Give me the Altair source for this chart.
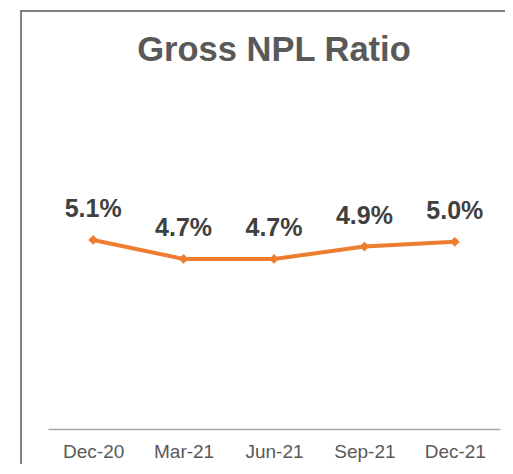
import altair as alt
import pandas as pd

quarters = ["Dec-20", "Mar-21", "Jun-21", "Sep-21", "Dec-21"]
npl_ratio = [5.08, 4.68, 4.68, 4.94, 5.04]

df = pd.DataFrame({"quarter": quarters, "ratio": npl_ratio})

FONT = "Liberation Sans"
ORANGE = "#ED7D31"

x = alt.X(
    "quarter:N", sort=quarters, title=None,
    axis=alt.Axis(labelAngle=0, labelFont=FONT, labelFontSize=19, labelColor="#595959",
                  labelPadding=13, ticks=False, domainColor="#A6A6A6", domainWidth=1.5,
                  grid=False),
)
y = alt.Y("ratio:Q", scale=alt.Scale(domain=[1.1, 7.1], zero=False, nice=False), axis=None)

base = alt.Chart(df).encode(x=x, y=y)
line = base.mark_line(color=ORANGE, strokeWidth=4)
pts = base.mark_point(shape="diamond", filled=True, size=95, color=ORANGE, opacity=1)
labels = base.transform_calculate(
    lbl="format(datum.ratio, '.1f') + '%'"
).mark_text(dy=-23, baseline="alphabetic", font=FONT, fontSize=25, fontWeight="bold",
            color="#404040").encode(text="lbl:N")

one = pd.DataFrame({"a": [0]})
border_top = alt.Chart(one).mark_rect(fill="#595959", strokeWidth=0).encode(
    x=alt.value(-27.75), x2=alt.value(460), y=alt.value(-133.75), y2=alt.value(-132.25))
border_left = alt.Chart(one).mark_rule(stroke="#595959", strokeWidth=1.5).encode(
    x=alt.value(-27), y=alt.value(-133), y2=alt.value(330))

chart = alt.layer(border_top, border_left, line, pts, labels).properties(
    width=452, height=285,
    autosize=alt.AutoSizeParams(type="none"),
    padding={"left": 40, "top": 136, "right": 5, "bottom": 35},
    title=alt.TitleParams("Gross NPL Ratio", font=FONT, fontSize=34.5, fontWeight="bold",
                          color="#595959", anchor="middle", baseline="alphabetic",
                          offset=-85),
).configure_view(stroke=None)

chart.save("out.html", embed_options={"renderer": "svg", "actions": False})
